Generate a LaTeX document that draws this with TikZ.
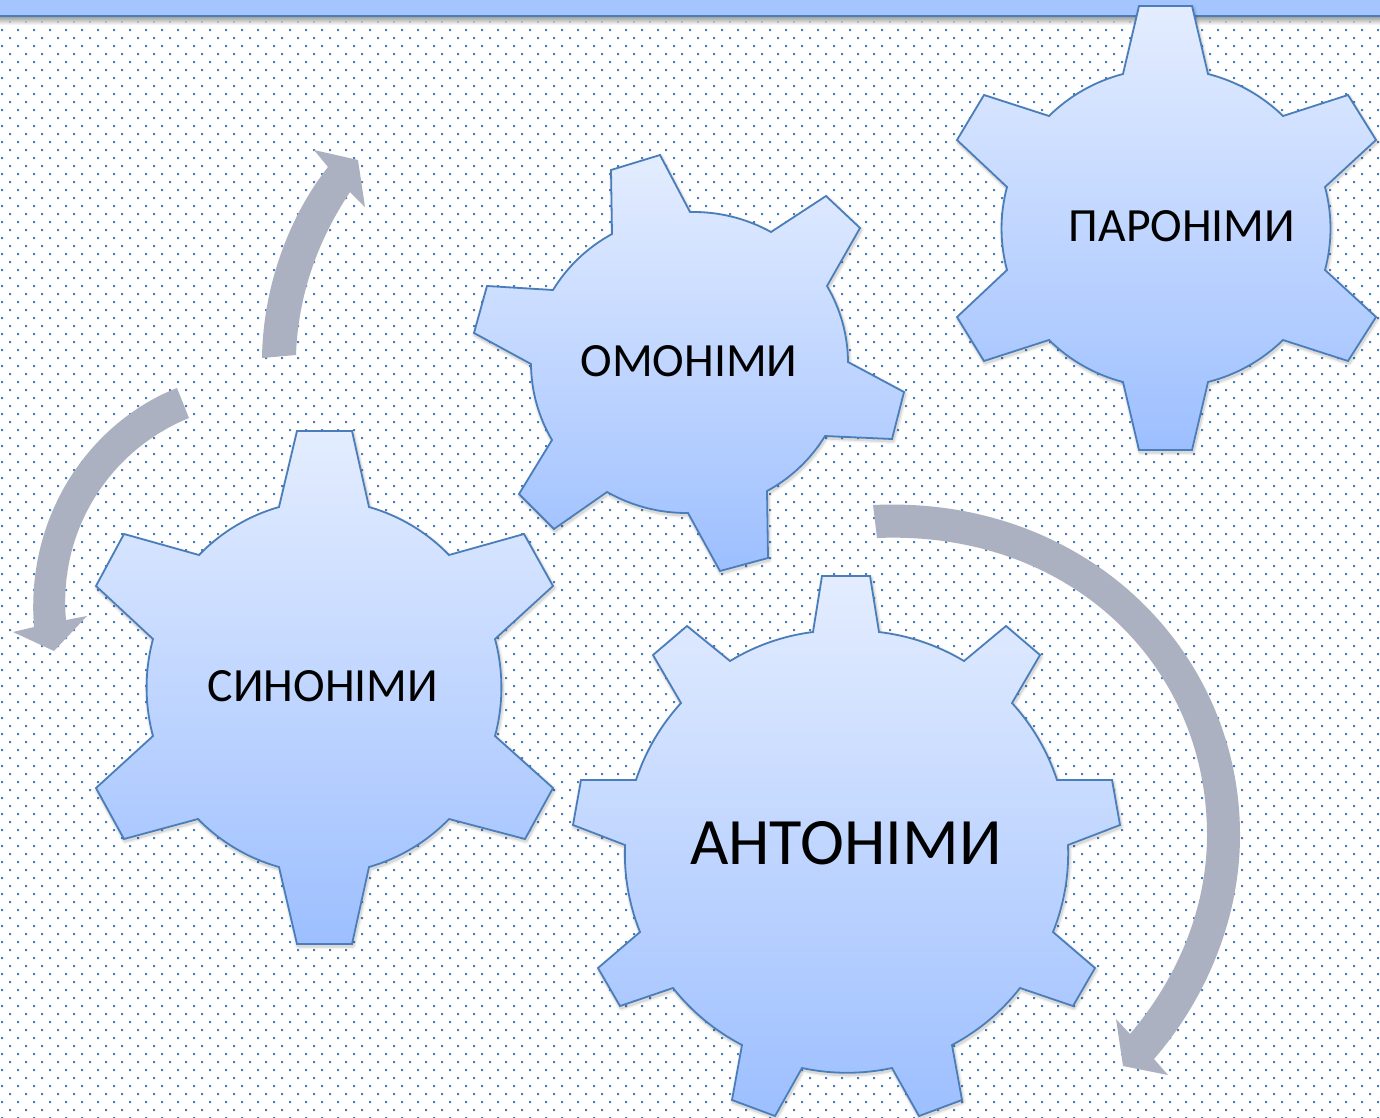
\documentclass[tikz,border=0pt]{standalone}
\usepackage{fontspec}
\setmainfont{Carlito}
\definecolor{barblue}{HTML}{A5C5FF}
\definecolor{linedark}{HTML}{4A7EBB}
\definecolor{geartop}{HTML}{E4EDFF}
\definecolor{gearbot}{HTML}{9DBFFF}
\definecolor{arrowgrey}{HTML}{ABB1C0}
\definecolor{dotblue}{HTML}{4A7EBB}
\tikzset{
  gearsh/.style={line width=1.8pt,draw=linedark,top color=geartop,bottom color=gearbot,line join=miter},
  rim/.style={bend left=15,looseness=.87},
  rimsmall/.style={bend left=12,looseness=.87},
  softa/.style={draw=black,draw opacity=.05,line width=6pt,fill=none,line join=round},
  softb/.style={draw=black,draw opacity=.10,line width=3pt,fill=none,line join=round},
  bandarrow/.style={fill=arrowgrey,draw=none},
  gearlabel/.style={inner sep=0pt,text=black},
}
\newcommand{\gearparon}{(1123,74)--(1139,6)--(1192,6)--(1208,74) to[rim] (1283,116)--(1348,95)--(1376,140)--(1325,187) to[rim] (1325,270)--(1376,317)--(1348,361)--(1283,340) to[rim] (1208,382)--(1192,450)--(1139,450)--(1123,382) to[rim] (1049,340)--(984,361)--(957,317)--(1007,270) to[rim] (1007,187)--(957,140)--(984,95)--(1049,116) to[rim] (1123,74)--cycle}
\newcommand{\gearomon}{(612,234)--(611,170)--(660,155)--(690,212) to[rim] (771,232)--(826,196)--(860,228)--(827,286) to[rim] (848,362)--(904,392)--(892,439)--(825,436) to[rim] (767,491)--(768,558)--(720,571)--(688,513) to[rim] (607,492)--(554,529)--(519,494)--(552,440) to[rim] (531,364)--(474,333)--(487,286)--(553,290) to[rim] (612,234)--cycle}
\newcommand{\gearsyn}{(279,507)--(297,431)--(352,431)--(369,507) to[rim] (449,555)--(524,534)--(553,586)--(495,639) to[rim] (495,736)--(553,788)--(525,839)--(449,819) to[rim] (369,867)--(352,944)--(297,944)--(279,867) to[rim] (198,819)--(124,839)--(96,788)--(153,736) to[rim] (153,639)--(96,586)--(124,534)--(199,555) to[rim] (279,507)--cycle}
\newcommand{\gearant}{(813,632)--(822,576)--(870,576)--(879,632) to[rimsmall] (964,661)--(1006,626)--(1040,655)--(1012,703) to[rimsmall] (1057,780)--(1112,780)--(1120,825)--(1068,845) to[rimsmall] (1053,932)--(1095,968)--(1073,1006)--(1020,988) to[rimsmall] (952,1045)--(962,1100)--(919,1116)--(892,1068) to[rimsmall] (802,1068)--(775,1116)--(732,1100)--(742,1045) to[rimsmall] (673,988)--(620,1006)--(598,968)--(640,932) to[rimsmall] (625,845)--(573,825)--(581,780)--(636,780) to[rimsmall] (681,703)--(653,655)--(687,626)--(730,661) to[rimsmall] (813,632)--cycle}
\newcommand{\softgear}[1]{%
  \draw[softa,xshift=1pt,yshift=-2pt] #1;
  \draw[softb,xshift=1pt,yshift=-2pt] #1;
  \draw[gearsh] #1;}
\begin{document}
\begin{tikzpicture}[x=1pt,y=-1pt]
\useasboundingbox (0,0) rectangle (1380,1117);
\fill[white] (0,0) rectangle (1380,1117);
% dotted background
\foreach \r in {0,...,68}{
  \fill[dotblue] \foreach \c in {0,...,86}{ (9+16*\c,21+16*\r) rectangle +(2,2) };
  \fill[dotblue] \foreach \c in {0,...,86}{ (1+16*\c,29+16*\r) rectangle +(2,2) };
}
% top bar
\shade[top color=black!45,bottom color=white,opacity=.8] (0,17) rectangle (1380,25);
\fill[barblue] (0,0) rectangle (1380,15);
\fill[linedark] (0,15) rectangle (1380,17);
% gears
\softgear{\gearparon}
\softgear{\gearomon}
\softgear{\gearsyn}
\softgear{\gearant}
% arrows
\fill[bandarrow] (262,358) .. controls (263,285) and (290,215) .. (328,167) -- (314,150) -- (358,160) -- (365,207) -- (350,192) .. controls (318,240) and (298,295) .. (296,355) -- cycle;
\fill[bandarrow] (177,388) .. controls (95,420) and (25,510) .. (34,627) -- (13,632) -- (54,651) -- (87,616) -- (66,620) .. controls (58,530) and (110,450) .. (189,418) -- cycle;
\fill[bandarrow] (873,505) .. controls (1085,495) and (1240,650) .. (1240,835) .. controls (1240,920) and (1205,1000) .. (1154,1059) -- (1168,1075) -- (1123,1066) -- (1116,1019) -- (1130,1034) .. controls (1180,975) and (1207,905) .. (1207,835) .. controls (1207,665) and (1070,530) .. (877,538) -- cycle;
% labels
\node[gearlabel,font=\fontsize{47.7}{52}\selectfont] (par) at (1182,226) {ПАРОНІМИ};
\node[gearlabel,font=\fontsize{47.7}{52}\selectfont] (omo) at (689,361) {ОМОНІМИ};
\node[gearlabel,font=\fontsize{47.7}{52}\selectfont] (syn) at (323,686) {СИНОНІМИ};
\node[gearlabel,font=\fontsize{66.3}{72}\selectfont] (ant) at (846,843) {АНТОНІМИ};
\end{tikzpicture}
\end{document}
